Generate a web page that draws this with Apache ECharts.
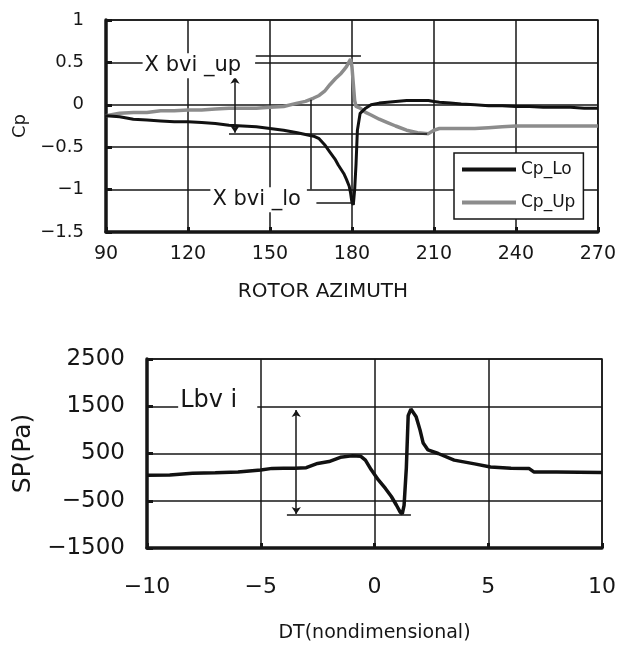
<!DOCTYPE html>
<html><head><meta charset="utf-8">
<script src="https://cdn.jsdelivr.net/npm/echarts@6/dist/echarts.min.js"></script>
<style>html,body{margin:0;padding:0;background:#fff}#c{width:619px;height:652px}</style>
</head><body><div id="c"></div>
<script>
// ---- Top chart data (rotor azimuth, deg) ----
const azimuth = [90,95,100,105,110,115,120,125,130,135,140,145,150,155,160,163,166,168,170,172,174,175,176,177,178,179,179.5,180,180.5,181,181.5,182,183,185,187,190,193,196,200,204,208,210,212,216,220,225,230,235,240,245,250,255,260,265,270];
const cpLo = [-0.13,-0.14,-0.17,-0.18,-0.19,-0.2,-0.2,-0.21,-0.22,-0.24,-0.25,-0.26,-0.28,-0.3,-0.33,-0.35,-0.37,-0.4,-0.47,-0.56,-0.65,-0.71,-0.76,-0.81,-0.88,-0.96,-1.04,-1.15,-1.18,-1.0,-0.7,-0.3,-0.1,-0.04,0.0,0.02,0.03,0.04,0.05,0.05,0.05,0.04,0.03,0.02,0.01,0.0,-0.01,-0.01,-0.02,-0.02,-0.03,-0.03,-0.03,-0.04,-0.04];
const cpUp = [-0.13,-0.1,-0.09,-0.09,-0.07,-0.07,-0.06,-0.06,-0.05,-0.04,-0.04,-0.04,-0.03,-0.02,0.02,0.04,0.08,0.11,0.16,0.24,0.31,0.34,0.37,0.41,0.45,0.51,0.54,0.45,0.25,0.05,-0.02,-0.04,-0.04,-0.09,-0.12,-0.17,-0.21,-0.25,-0.3,-0.33,-0.34,-0.3,-0.28,-0.28,-0.28,-0.28,-0.27,-0.26,-0.25,-0.25,-0.25,-0.25,-0.25,-0.25,-0.25];
const cpTicks = {min:-1.5, max:1, step:0.5};
const azTicks = {min:90, max:270, step:30};

// ---- Bottom chart data ----
const dtVals = [-10,-9,-8,-7,-6,-5,-4.5,-4,-3.5,-3,-2.5,-2,-1.5,-1,-0.6,-0.4,-0.15,0.17,0.48,0.74,0.96,1.13,1.22,1.3,1.4,1.48,1.6,1.83,2.0,2.14,2.35,2.8,3.5,4.4,5.1,6,6.8,7.0,8,9,10];
const spVals = [40,45,80,90,110,150,185,190,190,200,290,330,420,450,440,360,160,-60,-240,-410,-590,-740,-780,-600,200,1300,1440,1280,1000,720,575,500,360,280,215,190,180,110,110,105,100];
const spTicks = {min:-1500, max:2500, step:1000};
const dtTicks = {min:-10, max:10, step:5};

// ---- Annotations (data coordinates) ----
const topAnnoLines = [
  [[144.8,0.575],[183.3,0.575]],   // Xbvi_up pointer
  [[135,-0.34],[207.5,-0.34]],     // Cp_Up min level
  [[164.8,0.06],[164.8,-1.0]],     // leader
  [[167,-1.16],[181.1,-1.16]]      // Xbvi_lo pointer
];
const topAnnoArrows = [ [[137.2,0.33],[137.2,-0.33]] ];
const topAnnoTexts = [ {name:'X bvi _up', at:[103.4,0.46], padRight:14}, {name:'X bvi _lo', at:[128.2,-1.12], padRight:6} ];
const botAnnoLines = [ [[-3.85,-800],[1.6,-800]] ];
const botAnnoArrows = [ [[-3.44,1420],[-3.44,-780]] ];
const botAnnoTexts = [ {name:'Lbv i', at:[-8.63,1611], padRight:20} ];

const INK = '#161616';
const minus = v => String(v).replace('-', '\u2212');
const seg = (arr, sym) => arr.map(s => [{coord:s[0], symbol:sym}, {coord:s[1], symbol:sym}]);

function axisX(grid, t, name, fs, margin, gap, pad, nfs){
  return {gridIndex:grid, type:'value', min:t.min, max:t.max, interval:t.step,
    name:name, nameLocation:'middle', nameGap:gap,
    nameTextStyle:{fontFamily:'DejaVu Sans', fontSize:nfs, color:INK, padding:pad},
    axisLine:{onZero:false, lineStyle:{color:INK, width:3.5}},
    axisTick:{inside:true, length:5, lineStyle:{color:INK, width:3}},
    axisLabel:{fontFamily:'DejaVu Sans', fontSize:fs, color:INK, margin:margin, formatter:minus},
    splitLine:{show:true, lineStyle:{color:INK, width:1.5}}};
}
function axisY(grid, t, name, fs, margin, gap, nfs){
  return {gridIndex:grid, type:'value', min:t.min, max:t.max, interval:t.step,
    name:name, nameLocation:'middle', nameGap:gap,
    nameTextStyle:{fontFamily:'DejaVu Sans', fontSize:nfs, color:INK},
    axisLine:{onZero:false, lineStyle:{color:INK, width:3.5}},
    axisTick:{inside:true, length:6, lineStyle:{color:INK, width:3}},
    axisLabel:{fontFamily:'DejaVu Sans', fontSize:fs, color:INK, margin:margin, formatter:minus},
    splitLine:{show:true, lineStyle:{color:INK, width:1.5}}};
}
function annoMarks(lines, arrows, texts, fs){
  return {
    markLine:{silent:true, animation:false, symbol:'none', symbolSize:7,
      lineStyle:{color:INK, width:1.5, type:'solid'}, label:{show:false}, emphasis:{disabled:true},
      data: seg(lines,'none').concat(seg(arrows,'arrow'))},
    markPoint:{silent:true, animation:false, symbol:'circle', symbolSize:0,
      label:{show:true, position:'right', distance:0, formatter:p=>p.name,
        fontFamily:'DejaVu Sans', fontSize:fs, color:INK, backgroundColor:'#fff'},
      data: texts.map(t=>({name:t.name, coord:t.at, label:{padding:[2,t.padRight,2,2]}}))}
  };
}

const chart = echarts.init(document.getElementById('c'));
chart.setOption({
  animation:false,
  backgroundColor:'#fff',
  grid:[
    {left:106, top:20, width:496, height:212, show:true, borderColor:INK, borderWidth:1.5},
    {left:147, top:359, width:459, height:189, show:true, borderColor:INK, borderWidth:1.5}
  ],
  xAxis:[
    axisX(0, azTicks, 'ROTOR AZIMUTH', 19, 13, 50, [0,58,0,0], 20),
    axisX(1, dtTicks, 'DT(nondimensional)', 22, 28, 76, [0,0,0,0], 19)
  ],
  yAxis:[
    axisY(0, cpTicks, 'Cp', 18, 22, 64, 18),
    axisY(1, spTicks, 'SP(Pa)', 23, 22, 110, 25)
  ],
  legend:{data:['Cp_Lo','Cp_Up'], orient:'vertical', left:454, top:153, icon:'rect',
    itemWidth:54, itemHeight:4, itemGap:16, padding:[8,8,8,8],
    backgroundColor:'#fff', borderColor:INK, borderWidth:1.5, borderRadius:0,
    textStyle:{fontFamily:'DejaVu Sans', fontSize:17, color:INK}},
  series:[
    Object.assign({name:'Cp_Lo', type:'line', xAxisIndex:0, yAxisIndex:0, showSymbol:false,
      data: azimuth.map((a,i)=>[a, cpLo[i]]),
      lineStyle:{color:'#111', width:3}, itemStyle:{color:'#111'}, z:3},
      annoMarks(topAnnoLines, topAnnoArrows, topAnnoTexts, 21)),
    {name:'Cp_Up', type:'line', xAxisIndex:0, yAxisIndex:0, showSymbol:false,
      data: azimuth.map((a,i)=>[a, cpUp[i]]),
      lineStyle:{color:'#8c8c8c', width:3.5}, itemStyle:{color:'#8c8c8c'}, z:2},
    Object.assign({name:'SP', type:'line', xAxisIndex:1, yAxisIndex:1, showSymbol:false,
      data: dtVals.map((d,i)=>[d, spVals[i]]),
      lineStyle:{color:'#111', width:3.5}, itemStyle:{color:'#111'}},
      annoMarks(botAnnoLines, botAnnoArrows, botAnnoTexts, 24))
  ]
});
</script></body></html>
